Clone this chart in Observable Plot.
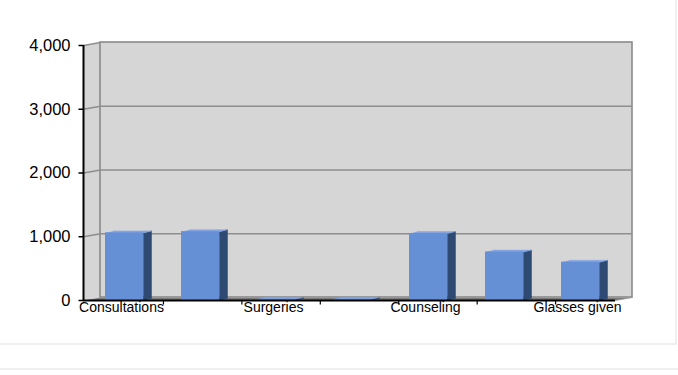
<!DOCTYPE html>
<html>
<head>
<meta charset="utf-8">
<script src="https://cdn.jsdelivr.net/npm/d3@7"></script>
<script src="https://cdn.jsdelivr.net/npm/@observablehq/plot@0.6"></script>
<style>
  html, body { margin: 0; padding: 0; background: #fff; }
  #wrap { width: 677px; height: 345px; box-sizing: border-box; border-right: 2px solid #efefef; border-bottom: 2px solid #efefef; position: relative; overflow: hidden; }
  #strip { width: 678px; height: 25px; box-sizing: border-box; border-bottom: 2px solid #efefef; }
  svg { font-family: "Liberation Sans", Arial, sans-serif; display: block; }
</style>
</head>
<body>
<div id="wrap"></div>
<div id="strip"></div>
<script>
// ---- data ----
const categories = ["Consultations", "Refractions", "Surgeries", "Referrals", "Counseling", "Prescriptions", "Glasses given"];
const values = [1060, 1080, 20, 20, 1050, 760, 600];
const yTicks = [0, 1000, 2000, 3000, 4000];
const labelledIndex = [0, 2, 4, 6];

// ---- layout ----
const W = 675, H = 340;
const mL = 83, mR = W - 615, mT = 45, mB = H - 300;
const n = categories.length;
const yMax = 4000;
const kx = n / (W - mL - mR);         // data units per pixel (x)
const ky = yMax / (H - mT - mB);      // data units per pixel (y)
const wallDX = 17, wallDY = 3;        // depth of the 3D box in pixels
const barDX = 8, barDY = 2;           // depth of each bar in pixels
const barShift = 3;                   // bars sit slightly behind the front plane
const half = 0.25;                    // half bar width in category units

const x0 = -0.5, x1 = n - 0.5;
const wx = wallDX * kx, wy = wallDY * ky;
const bx = barDX * kx, by = barDY * ky;

// 3D box polygons built from the scale domains
const leftWall = [
  {x: x0, y: 0}, {x: x0, y: yMax}, {x: x0 + wx, y: yMax + wy}, {x: x0 + wx, y: wy}
];
const floor = [
  {x: x0, y: 0}, {x: x1, y: 0}, {x: x1 + wx, y: wy}, {x: x0 + wx, y: wy}
];

const bars = values.map((v, i) => ({i, v, name: categories[i]}));
const sideFaces = bars.flatMap(d => [
  {g: d.i, x: d.i + half, y: 0},
  {g: d.i, x: d.i + half, y: d.v},
  {g: d.i, x: d.i + half + bx, y: d.v + by},
  {g: d.i, x: d.i + half + bx, y: by}
]);
const topFaces = bars.flatMap(d => [
  {g: d.i, x: d.i - half, y: d.v},
  {g: d.i, x: d.i + half, y: d.v},
  {g: d.i, x: d.i + half + bx, y: d.v + by},
  {g: d.i, x: d.i - half + bx, y: d.v + by}
]);

const fmt = d3.format(",");
const xTickPos = d3.range(1, n).map(i => i * ((n + wx) / n) - 0.5 + 0.02);

const chart = Plot.plot({
  width: W, height: H,
  marginLeft: mL, marginRight: mR, marginTop: mT, marginBottom: mB,
  x: {domain: [x0, x1], axis: null},
  y: {domain: [0, yMax], axis: null},
  style: {fontFamily: "'Liberation Sans', Arial, sans-serif", background: "transparent"},
  marks: [
    // left side wall
    Plot.line(leftWall, {x: "x", y: "y", fill: "#d5d5d5", stroke: "none"}),
    // back wall
    Plot.rect([0], {x1: x0, x2: x1, y1: 0, y2: yMax, dx: wallDX, dy: -wallDY, fill: "#d6d6d6", stroke: "#8a8a8a", strokeWidth: 1.6}),
    // back wall gridlines
    Plot.ruleY(yTicks.slice(1, -1), {x1: x0, x2: x1, dx: wallDX, dy: -wallDY, stroke: "#8e8e8e", strokeWidth: 1.5}),
    // left wall gridlines (slanted)
    Plot.link(yTicks.slice(1), {x1: x0, y1: d => d, x2: x0 + wx, y2: d => d + wy, stroke: "#8e8e8e", strokeWidth: 1.4}),
    // floor
    Plot.line(floor, {x: "x", y: "y", fill: "#7c7c7c", stroke: "#9a9a9a", strokeWidth: 0.8}),
    // bars: side, top, front
    Plot.line(sideFaces, {x: "x", y: "y", z: "g", fill: "#2e4a72", stroke: "#2e4a72", strokeWidth: 0.5, dx: barShift}),
    Plot.line(topFaces, {x: "x", y: "y", z: "g", fill: "#86a6e2", stroke: "#86a6e2", strokeWidth: 0.5, dx: barShift}),
    Plot.rectY(bars, {x1: d => d.i - half, x2: d => d.i + half, y1: 0, y2: "v", fill: "#6690d6", dx: barShift}),
    // y axis
    Plot.ruleX([x0], {y1: 0, y2: yMax, stroke: "#000", strokeWidth: 2}),
    Plot.link(yTicks, {x1: x0 - 5 * kx, x2: x0, y1: d => d, y2: d => d, stroke: "#000", strokeWidth: 1.5}),
    Plot.text(yTicks, {x: x0, y: d => d, text: d => fmt(d), dx: -13, textAnchor: "end", fontSize: 16.5, fill: "#000"}),
    // x axis
    Plot.ruleY([0], {x1: x0, x2: x1, stroke: "#000", strokeWidth: 2}),
    Plot.link(xTickPos, {x1: d => d, x2: d => d, y1: 0, y2: -4 * ky, stroke: "#000", strokeWidth: 1.2}),
    Plot.text(labelledIndex, {x: d => d, y: 0, text: d => categories[d], dy: 2, lineAnchor: "top", fontSize: 14, fill: "#000"})
  ]
});
document.getElementById("wrap").appendChild(chart);
</script>
</body>
</html>
